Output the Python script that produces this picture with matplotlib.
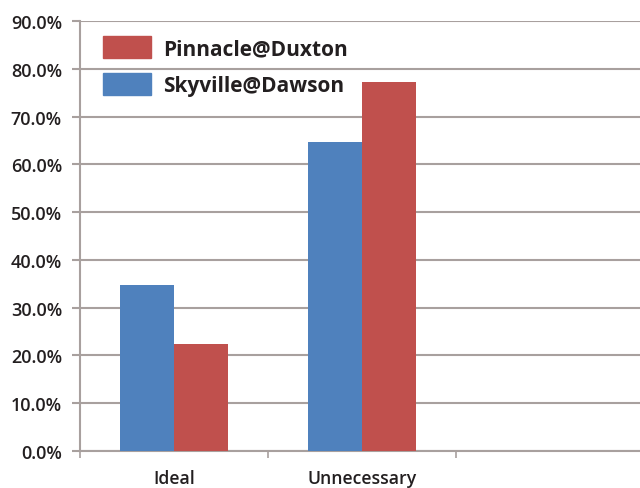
import matplotlib
matplotlib.use("Agg")
import matplotlib.pyplot as plt
import numpy as np
from matplotlib.ticker import FuncFormatter, FixedLocator
from matplotlib.patches import Patch

categories = ["Ideal", "Unnecessary", ""]
skyville = [0.348, 0.647, np.nan]
pinnacle = [0.225, 0.772, np.nan]
series_names = ["Pinnacle@Duxton", "Skyville@Dawson"]
yticks = [0.0, 0.1, 0.2, 0.3, 0.4, 0.5, 0.6, 0.7, 0.8, 0.9]

BLUE = "#4f81bd"
RED = "#c0504d"
GRID = "#a8a09e"
TXT = "#231f20"

plt.rcParams["font.family"] = ["Open Sans", "DejaVu Sans"]

fig = plt.figure(figsize=(6.4, 4.89), dpi=100)
ax = fig.add_axes([80/640, 1-452/489, (644-80)/640, (452-22)/489])

x = np.arange(len(categories))
w = 0.287
ax.bar(x - w/2, skyville, width=w, color=BLUE, zorder=3)
ax.bar(x + w/2, pinnacle, width=w, color=RED, zorder=3)

ax.set_xlim(-0.5, 2.5)
ax.set_ylim(0, 0.9)
ax.set_yticks(yticks)
ax.yaxis.set_major_formatter(FuncFormatter(lambda v, p: f"{v*100:.1f}%"))
ax.grid(axis="y", color=GRID, linewidth=1.5, zorder=0)

ax.set_xticks(x[:2])
ax.set_xticklabels(categories[:2])
ax.xaxis.set_minor_locator(FixedLocator([-0.5, 0.5, 1.5, 2.5]))
ax.tick_params(axis="x", which="major", length=0, pad=13, labelsize=12.7, labelcolor=TXT)
ax.tick_params(axis="x", which="minor", length=5, width=1.2, color=GRID)
ax.tick_params(axis="y", length=6, width=1.5, color=GRID, labelsize=13, labelcolor=TXT, pad=7)
for lbl in ax.get_xticklabels() + ax.get_yticklabels():
    lbl.set_fontweight("semibold")

for s in ["top", "right"]:
    ax.spines[s].set_visible(False)
ax.spines["left"].set_color(GRID)
ax.spines["left"].set_linewidth(1.5)
ax.spines["bottom"].set_color(GRID)
ax.spines["bottom"].set_linewidth(1.5)

handles = [Patch(color=RED), Patch(color=BLUE)]
leg = ax.legend(handles, series_names, loc="upper left",
                bbox_to_anchor=((103-80)/564, (452-37)/430),
                frameon=False, borderpad=0, borderaxespad=0,
                handlelength=2.3, handleheight=1.25, handletextpad=0.58,
                labelspacing=0.66, prop={"family": ["Open Sans", "DejaVu Sans"], "weight": "bold", "size": 15})
for t in leg.get_texts():
    t.set_color(TXT)

fig.savefig("out.png", dpi=100, facecolor="white")
